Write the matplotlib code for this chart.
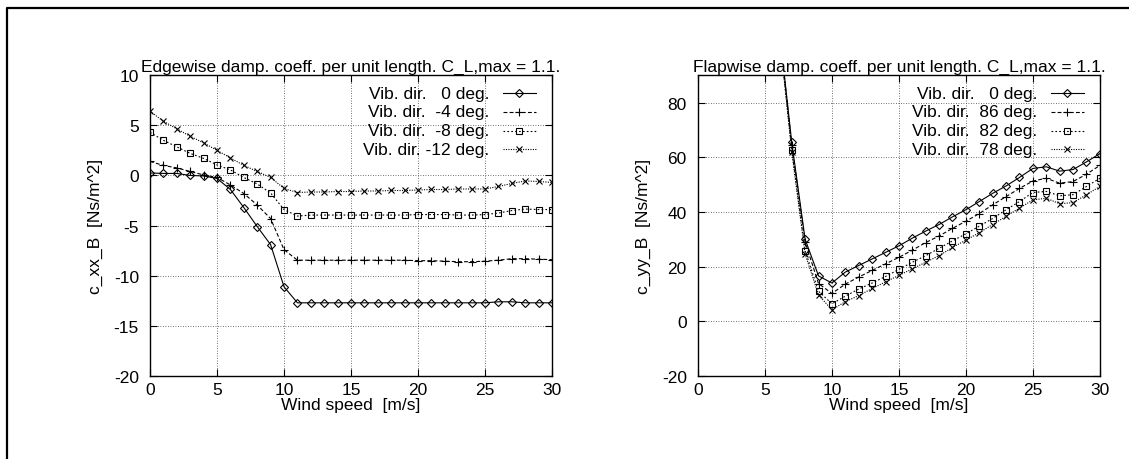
import matplotlib
matplotlib.use("Agg")
import matplotlib.pyplot as plt
from matplotlib.lines import Line2D

plt.rcParams['font.family'] = ['Liberation Sans', 'DejaVu Sans']
plt.rcParams['axes.unicode_minus'] = False

# edgewise damping, one value per m/s from 0 to 30
wind = list(range(0, 31))
edge_0 = [0.25, 0.2, 0.2, 0.0, -0.05, -0.3, -1.4, -3.2, -5.1, -6.9, -11.1,
          -12.7, -12.7, -12.7, -12.7, -12.7, -12.7, -12.7, -12.7, -12.7, -12.7,
          -12.7, -12.7, -12.7, -12.7, -12.7, -12.6, -12.6, -12.7, -12.7, -12.7]
edge_m4 = [1.4, 1.0, 0.75, 0.4, 0.05, -0.2, -0.95, -1.8, -2.95, -4.3, -7.4,
           -8.45, -8.45, -8.45, -8.45, -8.45, -8.45, -8.45, -8.45, -8.45, -8.5,
           -8.5, -8.55, -8.6, -8.6, -8.55, -8.45, -8.3, -8.3, -8.35, -8.4]
edge_m8 = [4.3, 3.5, 2.85, 2.2, 1.7, 1.05, 0.55, -0.2, -0.85, -1.75, -3.4,
           -4.05, -3.95, -3.95, -3.95, -3.95, -3.95, -3.95, -3.95, -3.95, -3.9,
           -3.9, -3.9, -3.95, -3.95, -3.9, -3.75, -3.5, -3.35, -3.4, -3.4]
edge_m12 = [6.4, 5.4, 4.65, 3.9, 3.25, 2.5, 1.75, 1.0, 0.4, -0.2, -1.3,
            -1.7, -1.65, -1.65, -1.6, -1.6, -1.55, -1.55, -1.5, -1.5, -1.45,
            -1.4, -1.4, -1.35, -1.35, -1.35, -1.1, -0.8, -0.55, -0.6, -0.7]

# flapwise damping, from 6 m/s up (values below 7 m/s run off the top)
wind_f = list(range(6, 31))
flap_0 = [110, 65.5, 30.0, 16.6, 14.0, 18.0, 20.4, 22.8, 25.2, 27.6, 30.4,
          33.0, 35.4, 38.2, 40.8, 43.8, 46.8, 49.5, 52.6, 55.9, 56.5, 54.9,
          55.5, 58.3, 61.3]
flap_86 = [110, 64.5, 29.0, 13.8, 10.2, 13.6, 16.2, 18.6, 21.0, 23.4, 26.0,
           28.8, 31.2, 34.0, 36.6, 39.4, 42.6, 45.6, 48.6, 51.3, 52.3, 50.5,
           51.1, 53.8, 57.0]
flap_82 = [109, 62.8, 25.8, 11.0, 6.4, 9.2, 11.8, 14.0, 16.4, 19.0, 21.6,
           24.0, 26.7, 29.4, 32.0, 34.8, 37.6, 40.8, 43.8, 47.1, 47.5, 45.9,
           46.3, 49.3, 52.3]
flap_78 = [109, 62.0, 24.6, 9.6, 4.2, 7.2, 9.4, 12.0, 14.4, 16.8, 19.2,
           21.6, 24.0, 27.0, 29.7, 32.4, 35.4, 38.4, 41.4, 44.4, 45.0, 43.0,
           43.4, 46.3, 49.3]

edge_labels = ["Vib. dir.   0 deg.", "Vib. dir.  -4 deg.",
               "Vib. dir.  -8 deg.", "Vib. dir. -12 deg."]
flap_labels = ["Vib. dir.   0 deg.", "Vib. dir.  86 deg.",
               "Vib. dir.  82 deg.", "Vib. dir.  78 deg."]

styles = [
    dict(linestyle='-', marker='D', markersize=3.6),
    dict(linestyle=(0, (3.5, 2)), marker='+', markersize=6),
    dict(linestyle=(0, (1.5, 2)), marker='s', markersize=5),
    dict(linestyle=(0, (1, 1.2)), marker='x', markersize=4.5),
]
FS = 12.5


def draw_panel(ax, x, series, labels, title, ylabel, ylim, yticks):
    for y, st in zip(series, styles):
        ax.plot(x, y, color='black', lw=0.8, fillstyle='none',
                markeredgewidth=0.8, **st)
    ax.set_xlim(0, 30)
    ax.set_ylim(*ylim)
    ax.set_xticks(range(0, 31, 5))
    ax.set_yticks(yticks)
    ax.tick_params(direction='in', length=5, width=0.8, top=True, right=True,
                   labelsize=FS)
    ax.tick_params(axis='y', pad=8)
    ax.tick_params(axis='x', pad=4)
    ax.grid(True, color='#444444', linestyle=(0, (1, 2)), lw=0.6)
    for sp in ax.spines.values():
        sp.set_linewidth(1.0)
    ax.set_title(title, fontsize=FS, pad=3)
    ax.set_xlabel("Wind speed  [m/s]", fontsize=FS, labelpad=0)
    ax.set_ylabel(ylabel, fontsize=FS, labelpad=8)

    # gnuplot style key: right aligned text, sample line to its right
    for i, (lab, st) in enumerate(zip(labels, styles)):
        yk = 0.94 - i * 0.062
        ax.text(0.845, yk, lab, transform=ax.transAxes, ha='right',
                va='center', fontsize=FS)
        ax.plot([0.878, 0.96], [yk, yk], transform=ax.transAxes,
                color='black', lw=0.8, linestyle=st['linestyle'])
        ax.plot([0.919], [yk], transform=ax.transAxes, color='black',
                marker=st['marker'], markersize=st['markersize'],
                fillstyle='none', markeredgewidth=0.8, linestyle='none')


fig = plt.figure(figsize=(11.29, 4.6), dpi=100)
ax1 = fig.add_axes([0.1329, 0.1804, 0.356, 0.654])
ax2 = fig.add_axes([0.6182, 0.1804, 0.356, 0.654])

draw_panel(ax1, wind, [edge_0, edge_m4, edge_m8, edge_m12], edge_labels,
           "Edgewise damp. coeff. per unit length. C_L,max = 1.1.",
           "c_xx_B  [Ns/m^2]", (-20, 10), range(-20, 11, 5))
draw_panel(ax2, wind_f, [flap_0, flap_86, flap_82, flap_78], flap_labels,
           "Flapwise damp. coeff. per unit length. C_L,max = 1.1.",
           "c_yy_B  [Ns/m^2]", (-20, 90), range(-20, 81, 20))

# page border (left and top edges)
fig.add_artist(Line2D([0.0062, 0.0062, 1.0], [0.0, 0.9804, 0.9804],
                      transform=fig.transFigure, color='black', lw=1.6))

fig.savefig("out.png", dpi=100)
